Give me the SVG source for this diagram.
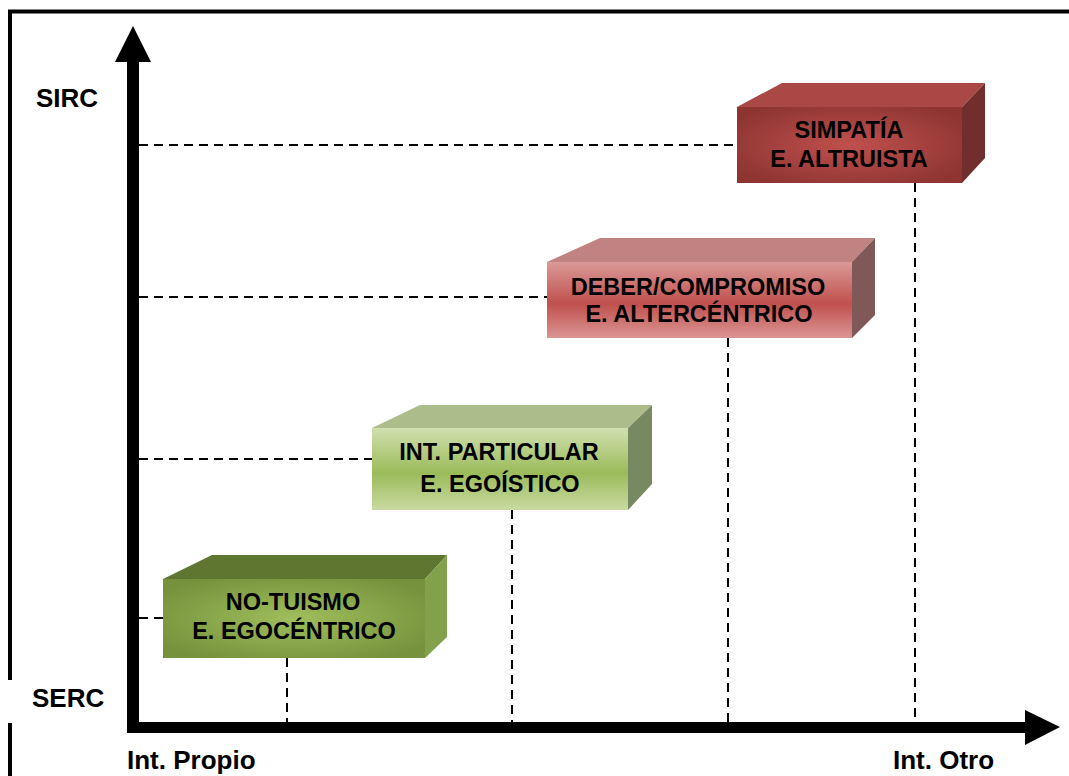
<svg xmlns="http://www.w3.org/2000/svg" width="1069" height="776" viewBox="0 0 1069 776">
<style>
.lbl{font-family:"Liberation Sans",Arial,sans-serif;font-weight:bold;font-size:26px;fill:#000}
.bt{font-family:"Liberation Sans",Arial,sans-serif;font-weight:bold;font-size:23.5px;fill:#000;text-anchor:middle}
.dash{stroke:#000;stroke-width:2;stroke-dasharray:9 6;fill:none}
</style>
<defs>
<radialGradient id="g1" cx="0.5" cy="0.5" r="0.6">
<stop offset="0" stop-color="#C0504D"/><stop offset="1" stop-color="#8E3532"/>
</radialGradient>
<linearGradient id="g2" x1="0" y1="0" x2="0" y2="1">
<stop offset="0" stop-color="#DA9A98"/><stop offset="0.55" stop-color="#C0504D"/><stop offset="1" stop-color="#DA9694"/>
</linearGradient>
<linearGradient id="g3" x1="0" y1="0" x2="0" y2="1">
<stop offset="0" stop-color="#D0E0B0"/><stop offset="0.55" stop-color="#9BBB59"/><stop offset="1" stop-color="#C9DBA3"/>
</linearGradient>
<radialGradient id="g4" cx="0.5" cy="0.5" r="0.6">
<stop offset="0" stop-color="#9FBE5C"/><stop offset="1" stop-color="#76923C"/>
</radialGradient>
</defs>
<rect width="1069" height="776" fill="#fff"/>
<g id="frame" stroke="#000" stroke-width="4" fill="none">
<path d="M1069 11.5 H10 V680"/>
<path d="M10 723 V776"/>
</g>
<g id="axes" fill="#000">
<rect x="127" y="58" width="12" height="675"/>
<polygon points="133,26 115,62 151,62"/>
<rect x="127" y="722" width="902" height="11"/>
<polygon points="1060,727 1025,710 1025,745"/>
</g>
<g id="connectors">
<path class="dash" d="M139 145 H737"/>
<path class="dash" d="M139 297 H547"/>
<path class="dash" d="M139 459 H372"/>
<path class="dash" d="M139 618 H163"/>
<path class="dash" d="M915 183 V722"/>
<path class="dash" d="M728 338 V722"/>
<path class="dash" d="M512 510 V722"/>
<path class="dash" d="M287 658 V722"/>
</g>
<g id="labels">
<text class="lbl" x="36" y="107">SIRC</text>
<text class="lbl" x="32" y="707">SERC</text>
<text class="lbl" x="127" y="769">Int. Propio</text>
<text class="lbl" x="893" y="769">Int. Otro</text>
</g>
<g id="node-simpatia">
<polygon points="737,107 782,83 985,83 962,107" fill="#A94845"/>
<polygon points="962,107 985,83 985,158 962,183" fill="#722E2C"/>
<rect x="737" y="107" width="225" height="76" fill="url(#g1)"/>
<text class="bt" x="849" y="138">SIMPATÍA</text>
<text class="bt" x="849" y="167">E. ALTRUISTA</text>
</g>
<g id="node-deber">
<polygon points="547,262 600,238 875,238 852,262" fill="#C08381"/>
<polygon points="852,262 875,238 875,315 852,338" fill="#805858"/>
<rect x="547" y="262" width="305" height="76" fill="url(#g2)"/>
<text class="bt" x="698" y="295">DEBER/COMPROMISO</text>
<text class="bt" x="699" y="322">E. ALTERCÉNTRICO</text>
</g>
<g id="node-particular">
<polygon points="372,428 420,405 652,405 628,428" fill="#ADBC8B"/>
<polygon points="628,428 652,405 652,484 628,510" fill="#778960"/>
<rect x="372" y="428" width="256" height="82" fill="url(#g3)"/>
<text class="bt" x="499" y="460">INT. PARTICULAR</text>
<text class="bt" x="500" y="492">E. EGOÍSTICO</text>
</g>
<g id="node-notuismo">
<polygon points="163,579 212,555 447,555 425,579" fill="#5F7631"/>
<polygon points="425,579 447,555 447,637 425,658" fill="#83A04B"/>
<rect x="163" y="579" width="262" height="79" fill="url(#g4)"/>
<text class="bt" x="293" y="610">NO-TUISMO</text>
<text class="bt" x="294" y="639">E. EGOCÉNTRICO</text>
</g>
</svg>
